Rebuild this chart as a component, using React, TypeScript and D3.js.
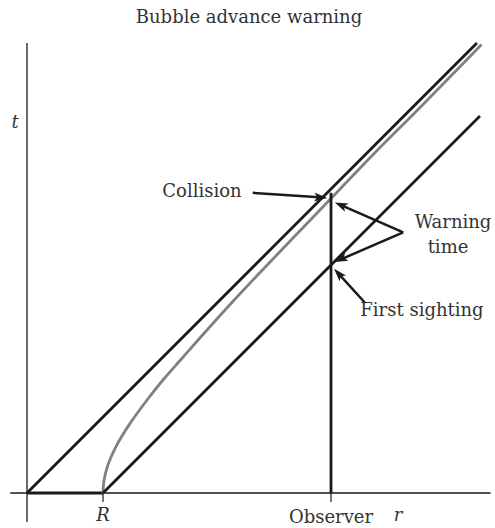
import React from 'react';
import * as d3 from 'd3';

// spacetime units: bubble radius R = 1
const bubbleR = 1;
const observerR = 4;
const lightConeEnd = 5.92;

// bubble wall worldline (r, t)
const wallR = [1, 1.005, 1.02, 1.044, 1.077, 1.118, 1.166, 1.22, 1.28, 1.345, 1.414, 1.6, 1.8, 2.02, 2.24, 2.69, 3.16, 3.64, 4.12, 4.6, 5.1, 5.59, 5.98];
const wallT = [0, 0.1, 0.2, 0.3, 0.4, 0.5, 0.6, 0.7, 0.8, 0.9, 1.0, 1.25, 1.5, 1.75, 2.0, 2.5, 3.0, 3.5, 4.0, 4.5, 5.0, 5.5, 5.9];

const labels = ['Collision', 'Warning', 'time', 'First sighting'];

const W = 495;
const H = 528;
const serif = '"DejaVu Serif", "Liberation Serif", serif';
const ink = '#1a1a1a';

const App: React.FC = () => {
  const x = d3.scaleLinear().domain([0, 1]).range([27, 103]);
  const y = d3.scaleLinear().domain([0, 1]).range([493, 417]);

  const line = d3.line<[number, number]>().x(d => x(d[0])).y(d => y(d[1]));
  const curve = d3.line<[number, number]>().x(d => x(d[0])).y(d => y(d[1])).curve(d3.curveCatmullRom.alpha(0.5));

  const wall: [number, number][] = wallR.map((r, i) => [r, wallT[i]]);
  const collisionT = Math.sqrt(observerR * observerR - bubbleR * bubbleR);
  const sightT = observerR - bubbleR;

  // arrows: start and tip in data units
  const arrows: [number, number, number, number][] = [
    [2.97, 3.95, observerR - 0.05, collisionT + 0.01],
    [4.95, 3.43, observerR + 0.05, collisionT - 0.05],
    [4.95, 3.43, observerR + 0.05, sightT + 0.04],
    [4.45, 2.5, observerR + 0.04, sightT - 0.05],
  ];

  const head = (x1: number, y1: number, x2: number, y2: number) => {
    const a = Math.atan2(y2 - y1, x2 - x1);
    const L = 13, w = 4.4;
    const bx = x2 - L * Math.cos(a), by = y2 - L * Math.sin(a);
    const px = -Math.sin(a) * w, py = Math.cos(a) * w;
    return `M${x2},${y2}L${bx + px},${by + py}L${bx + 3 * Math.cos(a)},${by + 3 * Math.sin(a)}L${bx - px},${by - py}Z`;
  };

  return (
    <svg width={W} height={H} style={{ position: 'absolute', left: 0, top: 0, background: '#fff' }}>
      <text x={249} y={23} textAnchor="middle" fontFamily={serif} fontSize={18} fill="#333">Bubble advance warning</text>

      {/* axes */}
      <line x1={x(-0.22)} x2={x(6.1)} y1={y(0)} y2={y(0)} stroke={ink} strokeWidth={1.3} />
      <line x1={x(0)} x2={x(0)} y1={y(-0.38)} y2={y(5.92)} stroke={ink} strokeWidth={1.3} />
      <line x1={x(bubbleR)} x2={x(bubbleR)} y1={y(0)} y2={y(-0.12)} stroke={ink} strokeWidth={1.2} />
      <line x1={x(observerR)} x2={x(observerR)} y1={y(0)} y2={y(-0.12)} stroke={ink} strokeWidth={1.2} />

      {/* worldlines */}
      <path d={line([[0, 0], [bubbleR, 0]])!} stroke={ink} strokeWidth={3} fill="none" />
      <path d={curve(wall)!} stroke="#808080" strokeWidth={2.8} fill="none" />
      <path d={line([[0, 0], [lightConeEnd, lightConeEnd]])!} stroke={ink} strokeWidth={2.8} fill="none" />
      <path d={line([[bubbleR, 0], [5.96, 5.96 - bubbleR]])!} stroke={ink} strokeWidth={2.8} fill="none" />
      <path d={line([[observerR, 0], [observerR, 3.95]])!} stroke={ink} strokeWidth={2.8} fill="none" />

      {arrows.map(([r1, t1, r2, t2], i) => {
        const x1 = x(r1), y1 = y(t1), x2 = x(r2), y2 = y(t2);
        const a = Math.atan2(y2 - y1, x2 - x1);
        return (
          <g key={i}>
            <line x1={x1} y1={y1} x2={x2 - 8 * Math.cos(a)} y2={y2 - 8 * Math.sin(a)} stroke={ink} strokeWidth={2.5} />
            <path d={head(x1, y1, x2, y2)} fill={ink} />
          </g>
        );
      })}

      <g fontFamily={serif} fontSize={18} fill="#333">
        <text x={202} y={197} textAnchor="middle">{labels[0]}</text>
        <text x={453} y={228} textAnchor="middle">{labels[1]}</text>
        <text x={448} y={253} textAnchor="middle">{labels[2]}</text>
        <text x={422} y={316} textAnchor="middle">{labels[3]}</text>
        <text x={15} y={128} textAnchor="middle" fontStyle="italic">t</text>
        <text x={x(bubbleR)} y={521} textAnchor="middle" fontStyle="italic">R</text>
        <text x={x(observerR)} y={523} textAnchor="middle">Observer</text>
        <text x={398} y={521} textAnchor="middle" fontStyle="italic">r</text>
      </g>
    </svg>
  );
};

export default App;
